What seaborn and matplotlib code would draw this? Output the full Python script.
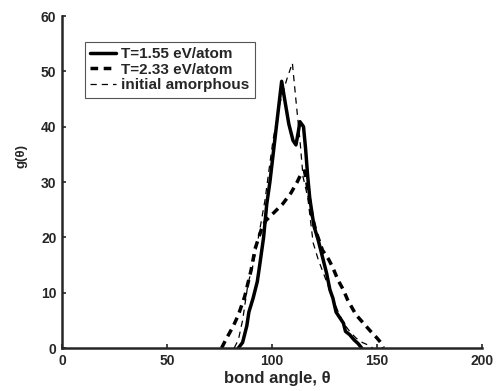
import numpy as np
import pandas as pd
import matplotlib
matplotlib.use("Agg")
import matplotlib.pyplot as plt
import seaborn as sns

# Bond angle distributions g(theta)
theta_low = [84, 86, 88, 89, 91, 93, 94, 96, 97.5, 99, 101, 103, 104.6, 106, 108, 110,
             111.4, 112.5, 113.3, 115, 116, 117, 118, 120, 122, 124, 126, 127.6, 129,
             130.5, 132.4, 134, 135, 137, 139, 141, 142.7]
g_low = [0, 1, 4, 6.5, 9, 12, 14.6, 20, 26, 30, 36.5, 43, 48.2, 45, 40.5, 37.5,
         36.7, 39, 40.9, 40, 36, 31, 27, 22, 19.5, 16.5, 13.5, 10.5, 9,
         6.5, 5.4, 4.5, 3, 2.4, 1.5, 0.8, 0]

theta_high = [76, 78, 81.5, 84, 87, 90, 92, 95, 97, 101, 105, 109, 112, 114, 115.5,
              117, 119, 121, 124, 127, 129, 131.4, 134, 136, 140, 143.5, 147, 150, 152, 153]
g_high = [0, 1.5, 3.9, 6, 9.3, 14, 18, 21.5, 23, 24.5, 26, 28, 30, 31.6, 32,
          29, 24, 21, 17.7, 16, 14.5, 12.3, 10.5, 8.7, 6, 4.5, 3, 1.8, 0.9, 0]

theta_init = [82, 84, 86, 88.6, 91, 93.3, 96.7, 98.5, 100.5, 103.8, 107, 109.7, 111.7,
              113.3, 114.8, 117, 119.6, 122, 125, 128, 131, 134, 137, 140, 143, 146, 148]
g_init = [0, 1.5, 5, 11.7, 15, 19.5, 26.8, 32, 37.6, 44.3, 48.5, 51.5, 43.6,
          37.6, 30.9, 27.3, 19, 16, 13, 10, 7, 4.5, 3, 1.8, 1, 0.5, 0]

labels = ["T=1.55 eV/atom", "T=2.33 eV/atom", "initial amorphous"]
xticks = [0, 50, 100, 150, 200]
yticks = [0, 10, 20, 30, 40, 50, 60]

sns.set_style("ticks")
plt.rcParams["font.family"] = ["Liberation Sans", "DejaVu Sans"]
plt.rcParams["font.weight"] = "bold"

fig = plt.figure(figsize=(4.97, 3.91), dpi=100)
ax = fig.add_axes([62 / 497, 43 / 391, 420 / 497, 332 / 391])

sns.lineplot(x=theta_low, y=g_low, ax=ax, color="black", linewidth=2.5,
             linestyle="-", label=labels[0], sort=False)
sns.lineplot(x=theta_high, y=g_high, ax=ax, color="black", linewidth=2.5,
             linestyle=(0, (2.2, 1.6)), label=labels[1], sort=False)
sns.lineplot(x=theta_init, y=g_init, ax=ax, color="black", linewidth=0.9,
             linestyle=(0, (5, 4)), label=labels[2], sort=False)

ax.set_xlim(0, 200)
ax.set_ylim(0, 60)
ax.set_xticks(xticks)
ax.set_yticks(yticks)
ax.tick_params(direction="in", length=3, width=1.2, labelsize=10)
ax.tick_params(axis="x", pad=4.5)
ax.tick_params(axis="y", pad=4)
for lab in ax.get_xticklabels() + ax.get_yticklabels():
    lab.set_fontweight("bold")
sns.despine(ax=ax)
ax.spines["left"].set_linewidth(1.8)
ax.spines["bottom"].set_linewidth(1.8)

ax.set_xlabel("bond angle, θ", fontsize=12, fontweight="bold")
ax.set_ylabel("g(θ)", fontsize=9.5, fontweight="bold")
ax.xaxis.set_label_coords(0.512, -0.07)
ax.yaxis.set_label_coords(-0.083, 0.578)

leg = ax.legend(loc="upper left", bbox_to_anchor=(0.055, 0.922), borderaxespad=0,
                fancybox=False, framealpha=1, edgecolor="#555555",
                handlelength=1.7, handletextpad=0.3, labelspacing=0.1,
                borderpad=0.35, prop={"weight": "bold", "size": 11})
leg.get_frame().set_linewidth(0.8)

fig.savefig("out.png", dpi=100)
